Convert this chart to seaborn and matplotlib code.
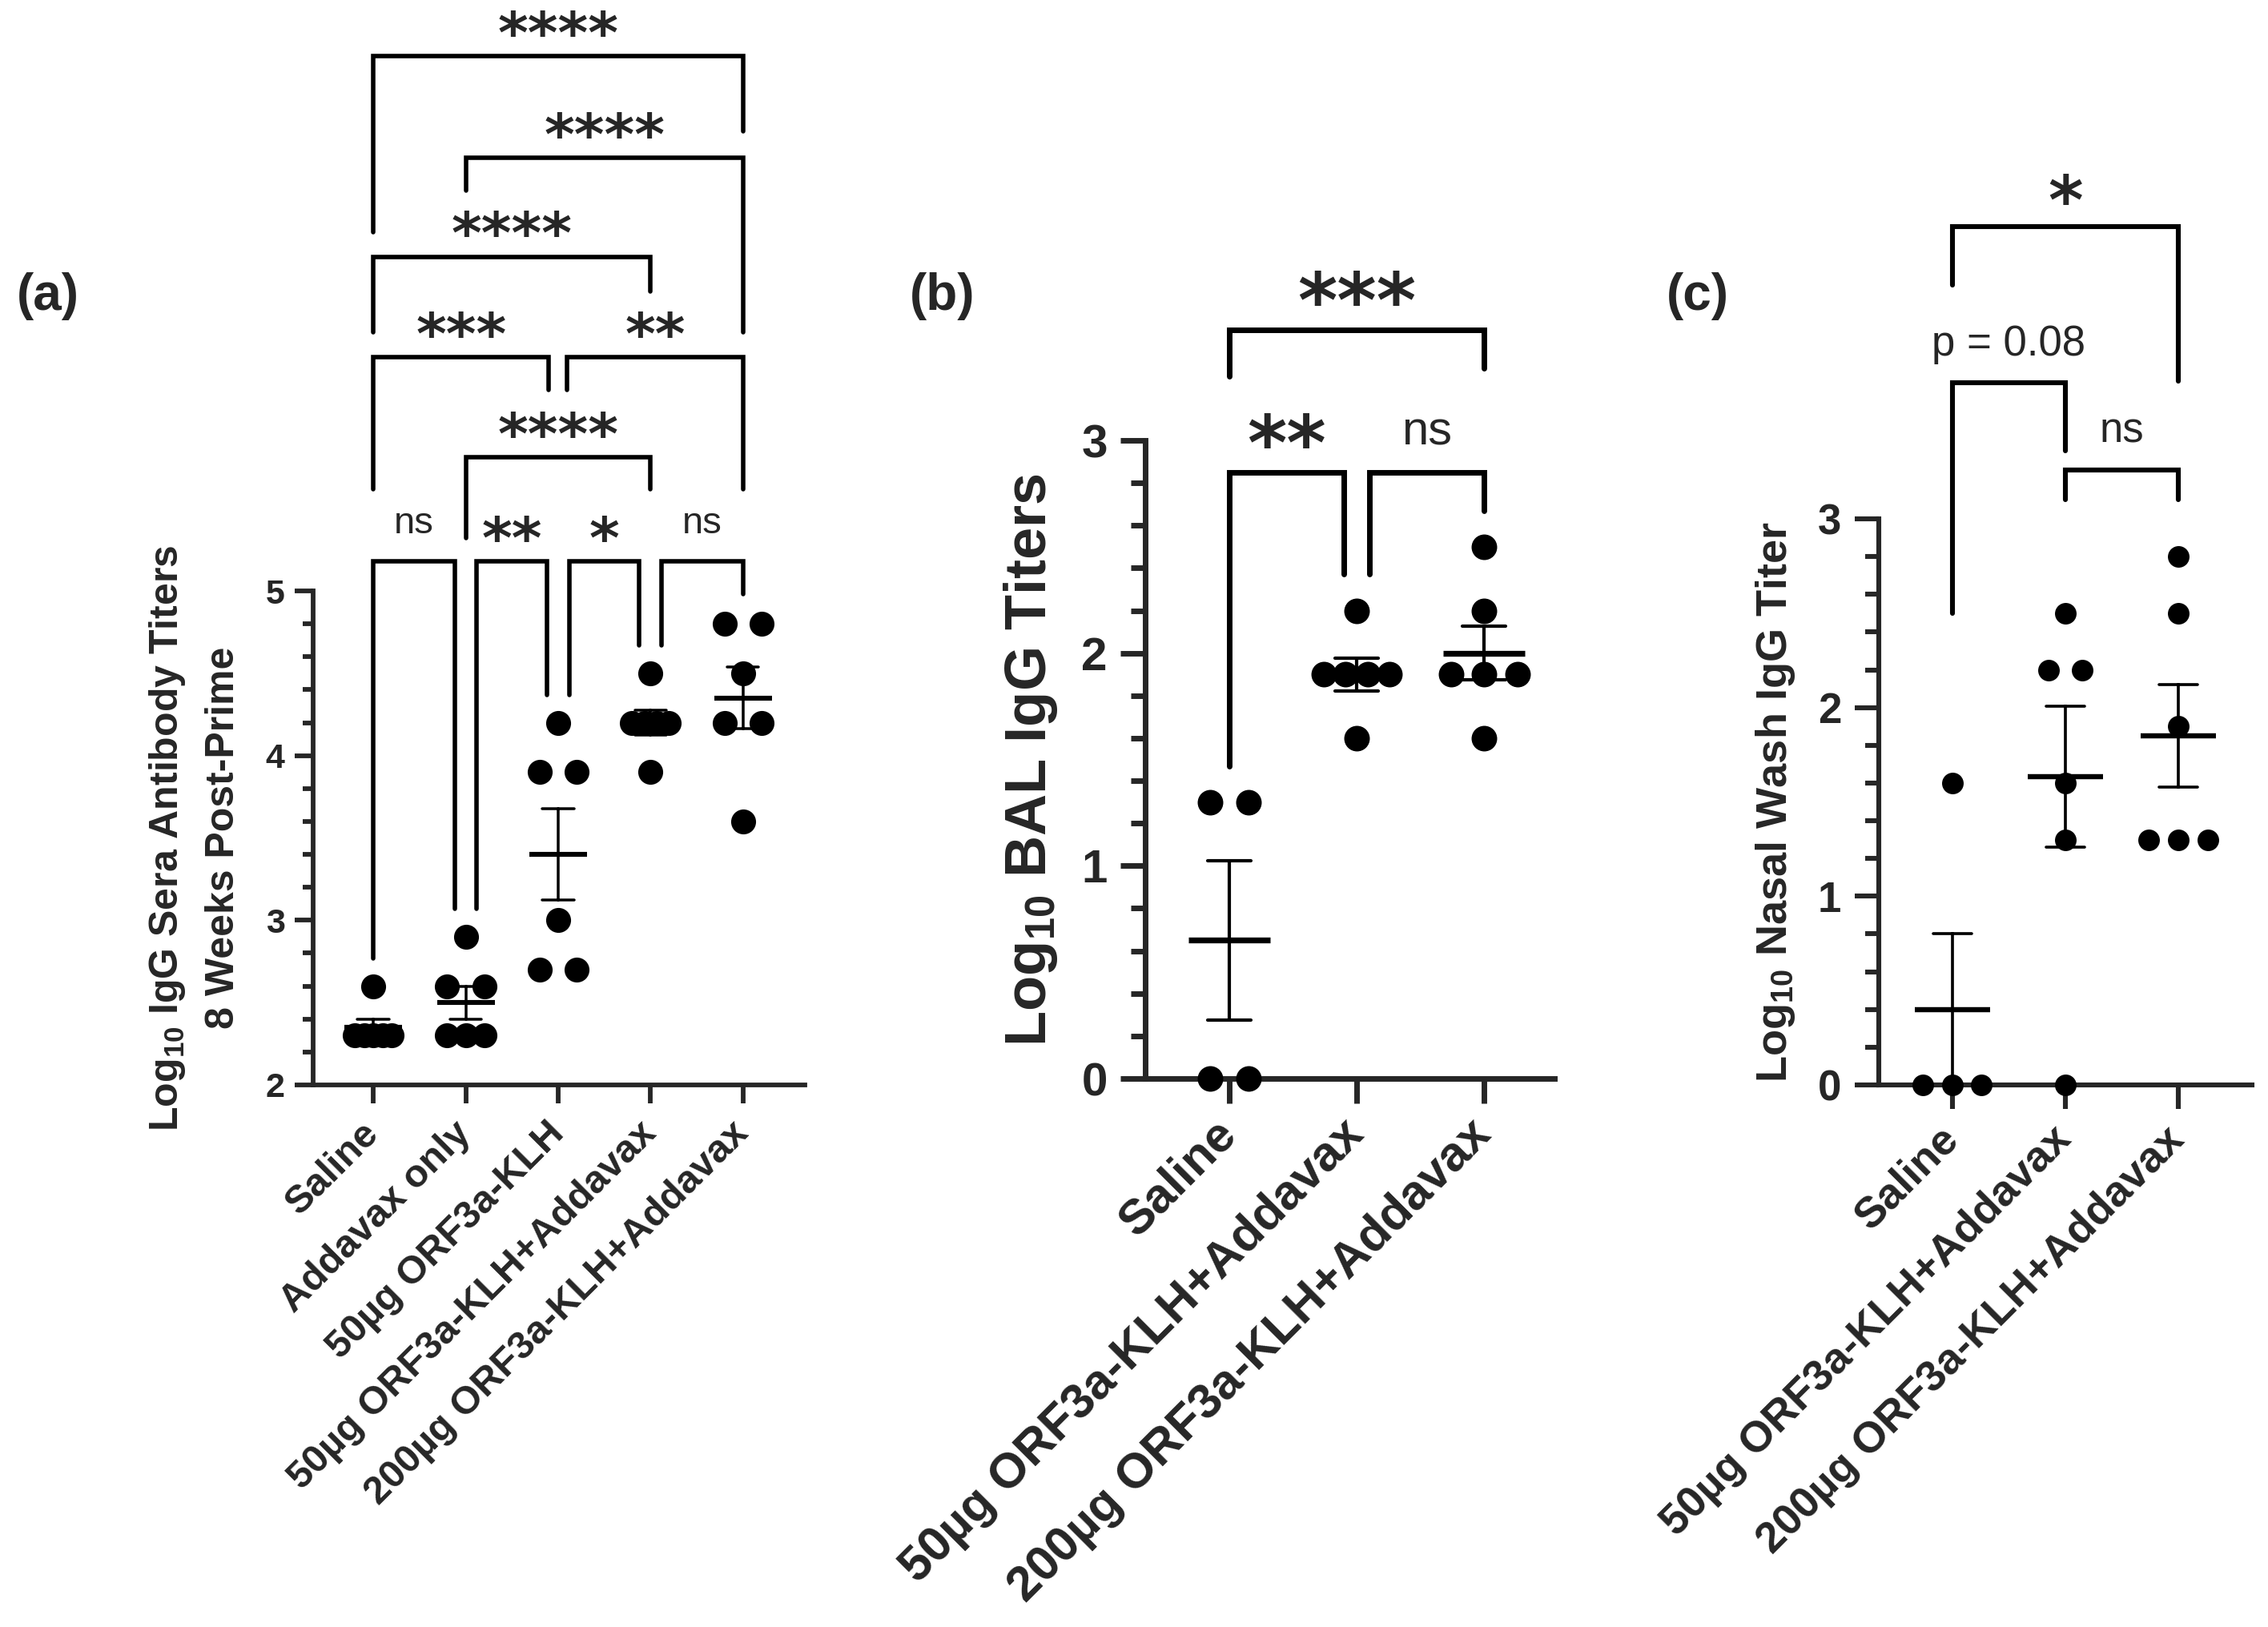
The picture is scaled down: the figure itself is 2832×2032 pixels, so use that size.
import numpy as np
import pandas as pd
import matplotlib
matplotlib.use("Agg")
import matplotlib.pyplot as plt
import seaborn as sns

# ---- data (log10 titers) ----
groups_a = ["Saline", "Addavax only", "50µg ORF3a-KLH",
            "50µg ORF3a-KLH+Addavax", "200µg ORF3a-KLH+Addavax"]
saline_a = [2.3, 2.3, 2.3, 2.3, 2.3, 2.6]
addavax_a = [2.3, 2.3, 2.3, 2.6, 2.6, 2.9]
klh50_a = [2.7, 2.7, 3.0, 3.9, 3.9, 4.2]
klh50_add_a = [3.9, 4.2, 4.2, 4.2, 4.2, 4.5]
klh200_add_a = [3.6, 4.2, 4.2, 4.5, 4.8, 4.8]

groups_bc = ["Saline", "50µg ORF3a-KLH+Addavax", "200µg ORF3a-KLH+Addavax"]
saline_b = [0.0, 0.0, 1.3, 1.3]
klh50_b = [1.6, 1.9, 1.9, 1.9, 1.9, 2.2]
klh200_b = [1.6, 1.9, 1.9, 1.9, 2.2, 2.5]

saline_c = [0.0, 0.0, 0.0, 1.6]
klh50_c = [0.0, 1.3, 1.6, 2.2, 2.2, 2.5]
klh200_c = [1.3, 1.3, 1.3, 1.9, 2.5, 2.8]

# significance labels (group i, group j, label)
sig_a = [(0, 1, "ns"), (1, 2, "**"), (2, 3, "*"), (3, 4, "ns"), (1, 3, "****"),
         (0, 2, "***"), (2, 4, "**"), (0, 3, "****"), (1, 4, "****"), (0, 4, "****")]
sig_b = [(0, 1, "**"), (1, 2, "ns"), (0, 2, "***")]
sig_c = [(1, 2, "ns"), (0, 1, "p = 0.08"), (0, 2, "*")]

# bracket geometry, same order as the sig lists: x shift left/right, bar height, leg ends
brk_a = [(0, -0.12, 5.18, 2.77, 3.07), (0.12, -0.12, 5.18, 3.07, 4.37),
         (0.12, -0.12, 5.18, 4.37, 4.67), (0.12, 0, 5.18, 4.67, 4.98),
         (0, 0, 5.81, 5.32, 5.62), (0, -0.1, 6.42, 5.62, 6.22),
         (0.1, 0, 6.42, 6.22, 5.62), (0, 0, 7.03, 6.57, 6.82),
         (0, 0, 7.63, 7.43, 6.57), (0, 0, 8.25, 7.18, 7.79)]
brk_b = [(0, -0.1, 2.85, 1.47, 2.37), (0.1, 0, 2.85, 2.37, 2.67), (0, 0, 3.52, 3.30, 3.34)]
brk_c = [(0, 0, 3.26, 3.10, 3.10), (0, 0, 3.72, 2.50, 3.36), (0, 0, 4.55, 4.24, 3.73)]

sns.set_style("ticks")
plt.rcParams["font.family"] = ["Liberation Sans", "DejaVu Sans"]
plt.rcParams["mathtext.fontset"] = "custom"
plt.rcParams["mathtext.rm"] = "Liberation Sans"
plt.rcParams["mathtext.bf"] = "Liberation Sans:bold"

DPI = 200


def spread(vals, dot, cap):
    """horizontal offsets for tied values (GraphPad-like scatter)"""
    vals = np.asarray(vals, float)
    off = np.zeros(len(vals))
    for v in np.unique(vals):
        idx = np.where(vals == v)[0]
        n = len(idx)
        if n > 1:
            w = min(1.6 * dot * (n - 1), cap)
            off[idx] = np.linspace(-w / 2, w / 2, n)
    return off


def make_df(groups, series, dot, cap):
    rows = []
    for i, (g, vals) in enumerate(zip(groups, series)):
        off = spread(vals, dot, cap)
        for v, o in zip(vals, off):
            rows.append({"group": g, "pos": i, "xj": i + o, "titer": v})
    return pd.DataFrame(rows)


def draw_panel(ax, df, groups, dot_pt, mean_pt, lw, xtick_fs, ytick_fs, ylab, ylab_fs,
               xlim, ylim, yticks, label_x, tick_len, ypad):
    sns.scatterplot(data=df, x="xj", y="titer", color="black", s=dot_pt ** 2,
                    linewidth=0, clip_on=False, zorder=3, ax=ax)
    sns.pointplot(data=df, x="pos", y="titer", native_scale=True, errorbar="se",
                  color="black", marker="_", linestyle="none", markersize=mean_pt,
                  markeredgewidth=lw * 1.05, capsize=0.34,
                  err_kws={"linewidth": lw * 0.6}, ax=ax)
    for c in ax.collections + ax.lines:
        c.set_clip_on(False)
    ax.set_xlim(*xlim)
    ax.set_ylim(*ylim)
    ax.set_yticks(yticks)
    ax.set_yticks(np.arange(ylim[0], ylim[1] + 0.01, 0.2), minor=True)
    ax.set_xticks(range(len(groups)))
    ax.set_xticklabels(groups, rotation=45, ha="right", va="center",
                       rotation_mode="anchor", fontsize=xtick_fs, fontweight="bold")
    for t in ax.get_yticklabels():
        t.set_fontweight("bold")
        t.set_fontsize(ytick_fs)
    ax.tick_params(axis="both", which="major", length=tick_len, width=lw)
    ax.tick_params(axis="y", which="minor", length=tick_len * 0.58, width=lw)
    ax.tick_params(axis="y", which="major", pad=ypad)
    ax.tick_params(axis="x", which="major", pad=11)
    for s in ["left", "bottom"]:
        ax.spines[s].set_linewidth(lw)
    sns.despine(ax=ax)
    ax.set_xlabel("")
    ax.set_ylabel(ylab, fontsize=ylab_fs, fontweight="bold", linespacing=1.6)
    ax.yaxis.set_label_coords(label_x, 0.5)


def draw_brackets(ax, sig, brk, lw, star_fs, ns_fs):
    for (i, j, lab), (dl, dr, yh, y1, y2) in zip(sig, brk):
        xl, xr = i + dl, j + dr
        ax.plot([xl, xl, xr, xr], [y1, yh, yh, y2], color="black", lw=lw,
                solid_joinstyle="miter", clip_on=False)
        if "*" in lab:
            ax.annotate(lab, xy=((xl + xr) / 2, yh), xytext=(0, 1.5),
                        textcoords="offset points", ha="center", va="baseline",
                        fontsize=star_fs, fontweight="bold", family="DejaVu Sans",
                        annotation_clip=False)
        else:
            ax.annotate(lab, xy=((xl + xr) / 2, yh), xytext=(0, 12.5),
                        textcoords="offset points", ha="center", va="baseline",
                        fontsize=ns_fs, annotation_clip=False)


fig = plt.figure(figsize=(2832 / DPI, 2032 / DPI), dpi=DPI)
ax_a = fig.add_axes([0.1381, 0.3332, 0.2168, 0.3036])
ax_b = fig.add_axes([0.5049, 0.3371, 0.1804, 0.3922])
ax_c = fig.add_axes([0.8284, 0.3332, 0.1645, 0.3479])

df_a = make_df(groups_a, [saline_a, addavax_a, klh50_a, klh50_add_a, klh200_add_a], 0.26, 0.40)
df_b = make_df(groups_bc, [saline_b, klh50_b, klh200_b], 0.19, 0.52)
df_c = make_df(groups_bc, [saline_c, klh50_c, klh200_c], 0.19, 0.52)

draw_panel(ax_a, df_a, groups_a, 11.2, 26, 2.1, 17.5, 15.5,
           "Log$_{\\mathbf{10}}$ IgG Sera Antibody Titers\n8 Weeks Post-Prime", 18,
           (-0.65, 4.67), (2, 5), [2, 3, 4, 5], -0.145, 8.3, 4.5)
draw_panel(ax_b, df_b, groups_bc, 11.5, 37, 2.5, 22, 21,
           "Log$_{\\mathbf{10}}$ BAL IgG Titers", 26,
           (-0.66, 2.55), (0, 3), [0, 1, 2, 3], -0.21, 11, 6)
draw_panel(ax_c, df_c, groups_bc, 9.7, 34, 2.2, 19.5, 19,
           "Log$_{\\mathbf{10}}$ Nasal Wash IgG Titer", 19.5,
           (-0.65, 2.65), (0, 3), [0, 1, 2, 3], -0.22, 10.8, 6)

draw_brackets(ax_a, sig_a, brk_a, 2.0, 26, 17)
draw_brackets(ax_b, sig_b, brk_b, 2.5, 34, 21.5)
draw_brackets(ax_c, sig_c, brk_c, 2.2, 30, 19)

fig.text(0.0075, 0.818, "(a)", fontsize=23, fontweight="bold", va="center")
fig.text(0.4156, 0.818, "(b)", fontsize=23, fontweight="bold", va="center", ha="center")
fig.text(0.7486, 0.818, "(c)", fontsize=23, fontweight="bold", va="center", ha="center")

fig.savefig("out.png", dpi=DPI, facecolor="white")
